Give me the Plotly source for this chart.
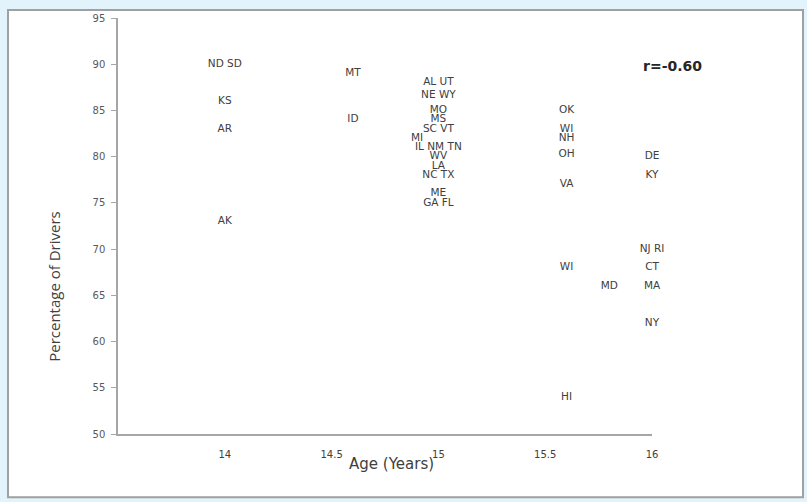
import plotly.graph_objects as go

labels = ["ND SD", "KS", "AR", "AK", "MT", "ID", "AL UT", "NE WY", "MO", "MS", "SC VT",
          "MI", "IL NM TN", "WV", "LA", "NC TX", "ME", "GA FL", "OK", "WI", "NH", "OH",
          "VA", "WI", "HI", "MD", "DE", "KY", "NJ RI", "CT", "MA", "NY"]
age = [14, 14, 14, 14, 14.6, 14.6, 15, 15, 15, 15, 15,
       14.9, 15, 15, 15, 15, 15, 15, 15.6, 15.6, 15.6, 15.6,
       15.6, 15.6, 15.6, 15.8, 16, 16, 16, 16, 16, 16]
pct = [90, 86, 83, 73, 89, 84, 88, 86.6, 85, 84, 83,
       82, 81, 80, 79, 78, 76, 75, 85, 83, 82, 80.3,
       77, 68, 54, 66, 80, 78, 70, 68, 66, 62]

x_ticks = [14, 14.5, 15, 15.5, 16]
x_tick_text = ["14", "14.5", "15", "15.5", "16"]
y_ticks = [50, 55, 60, 65, 70, 75, 80, 85, 90, 95]
r_text = "r=-0.60"

FONT = "DejaVu Sans"
TFONT = "Open Sans"
W, H = 807, 502
L, R, T, B = 118, 652, 13, 434
pw, ph = R - L, B - T

def px(x):
    return (x - L) / pw

def py(y):
    return (B - y) / ph

fig = go.Figure()
fig.add_trace(go.Scatter(
    x=age, y=pct, text=labels, mode="text", textposition="middle center",
    textfont=dict(family=FONT, size=10.5, color="#404040"), hoverinfo="skip",
    showlegend=False, cliponaxis=False,
))

fig.update_layout(
    width=W, height=H,
    margin=dict(l=L, r=W - R, t=T, b=H - B),
    paper_bgcolor="#e2f3fb", plot_bgcolor="white",
    font=dict(family=FONT, color="#404040"),
    xaxis=dict(range=[13.5, 16], tickvals=x_ticks, ticktext=x_tick_text,
               showgrid=False, zeroline=False, showline=True, linecolor="#a6a6a6",
               linewidth=1.5, ticks="", ticklabelstandoff=10,
               tickfont=dict(family=FONT, size=10, color="#404040")),
    yaxis=dict(range=[50, 95], tickvals=y_ticks, showgrid=False, zeroline=False,
               showline=True, linecolor="#a6a6a6", linewidth=1.5, ticks="outside",
               ticklen=5, tickcolor="#a6a6a6", ticklabelstandoff=4,
               tickfont=dict(family=FONT, size=10, color="#595959")),
    shapes=[dict(type="rect", xref="paper", yref="paper", layer="below",
                 x0=px(8), x1=px(803), y0=py(498), y1=py(5),
                 fillcolor="white", line=dict(color="#a0a0a0", width=2))],
    annotations=[
        dict(text="Percentage of Drivers", xref="paper", yref="paper",
             x=px(54), y=py(285), xanchor="center", yanchor="middle",
             textangle=-90, showarrow=False,
             font=dict(family=TFONT, size=15, color="#404040")),
        dict(text="Age (Years)", xref="paper", yref="paper",
             x=px(391), y=py(464), xanchor="center", yanchor="middle",
             showarrow=False,
             font=dict(family=FONT, size=15, color="#404040")),
        dict(text="<b>" + r_text + "</b>", xref="paper", yref="paper",
             x=px(672), y=py(62), xanchor="center", yanchor="middle",
             showarrow=False,
             font=dict(family=FONT, size=14, color="#262626")),
    ],
)

fig.write_html("out.html", config={"displayModeBar": False},
               post_script="document.body.style.margin='0';document.body.style.overflow='hidden';")
